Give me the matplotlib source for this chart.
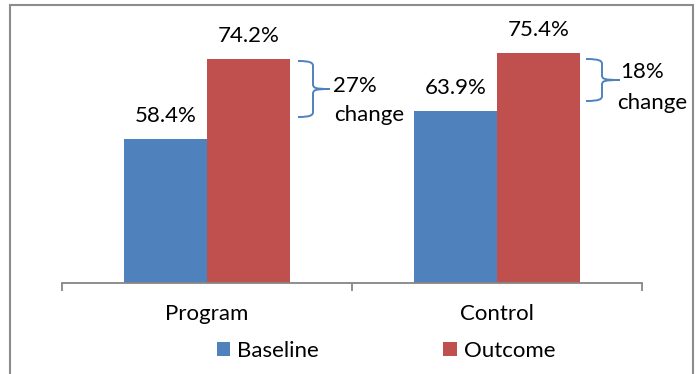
import matplotlib
matplotlib.use("Agg")
import matplotlib.pyplot as plt
from matplotlib.patches import Rectangle, PathPatch, Patch
from matplotlib.path import Path
import numpy as np

plt.rcParams['font.family'] = ['Lato', 'DejaVu Sans']

categories = ["Program", "Control"]
series_names = ["Baseline", "Outcome"]
baseline = [58.4, 63.9]
outcome = [74.2, 75.4]
change_labels = ["27%\nchange", "18%\nchange"]

colors = ["#4F81BD", "#C0504D"]
W, H = 697, 374
FS = 16

fig = plt.figure(figsize=(W / 100, H / 100), dpi=100)


def px(x, y):
    return (x / W, 1 - y / H)


# outer chart frame
fig.patches.append(Rectangle(px(10, 380), (693 - 10) / W, (380 - 5) / H,
                             transform=fig.transFigure, fill=False,
                             edgecolor="#8c8c8c", linewidth=1.5, zorder=0))

y0, y1 = 30, 84
ax_bottom = (H - 283) / H
ax_h = (y1 - y0) * 5.06 / H
ax = fig.add_axes([62 / W, ax_bottom, 580 / W, ax_h])
ax.set_facecolor("none")

x = np.arange(len(categories))
bw = 0.286
b1 = ax.bar(x - bw / 2, baseline, bw, color=colors[0], zorder=2)
b2 = ax.bar(x + bw / 2, outcome, bw, color=colors[1], zorder=2)
for bars, vals in ((b1, baseline), (b2, outcome)):
    ax.bar_label(bars, labels=[f"{v:.1f}%" for v in vals], padding=9.5,
                 fontsize=FS, color="black")

ax.set_xlim(-0.5, 1.5)
ax.set_ylim(y0, y1)
for s in ("top", "left", "right"):
    ax.spines[s].set_visible(False)
ax.spines["bottom"].set_color("#868686")
ax.spines["bottom"].set_linewidth(1.3)
ax.set_yticks([])
ax.set_xticks([-0.5, 0.5, 1.5])
ax.set_xticklabels([])
ax.tick_params(axis="x", which="major", length=5.8, width=1.3,
               color="#868686", direction="out")
ax.set_xticks(x, minor=True)
ax.set_xticklabels(categories, minor=True, fontsize=FS)
ax.tick_params(axis="x", which="minor", length=0, pad=15)


def brace(xe, xs, xt, yt, ym, yb):
    r = 5
    verts = [px(xe, yt), px(xs - 2, yt), px(xs, yt + 2), px(xs, yt + r),
             px(xs, ym - r), px(xs, ym - 1), px(xs + 2, ym), px(xt, ym),
             px(xs + 2, ym), px(xs, ym + 1), px(xs, ym + r),
             px(xs, yb - r), px(xs, yb - 2), px(xs - 2, yb), px(xe, yb)]
    codes = [Path.MOVETO, Path.CURVE4, Path.CURVE4, Path.CURVE4,
             Path.LINETO, Path.CURVE4, Path.CURVE4, Path.CURVE4,
             Path.CURVE4, Path.CURVE4, Path.CURVE4,
             Path.LINETO, Path.CURVE4, Path.CURVE4, Path.CURVE4]
    fig.patches.append(PathPatch(Path(verts, codes), transform=fig.transFigure,
                                 fill=False, edgecolor=colors[0], linewidth=1.4))


brace(298, 313, 330, 61, 89, 117)
brace(586, 602, 620, 59, 80, 101)

l1, l2 = change_labels[0].split("\n")
fig.text(*px(333, 86), l1, fontsize=FS, va="center", ha="left")
fig.text(*px(334, 115), l2, fontsize=FS, va="center", ha="left")
l1, l2 = change_labels[1].split("\n")
fig.text(*px(620, 72), l1, fontsize=FS, va="center", ha="left")
fig.text(*px(617, 103), l2, fontsize=FS, va="center", ha="left")

handles = [Patch(facecolor=c, edgecolor="none") for c in colors]
fig.legend(handles, series_names, loc="center", ncol=2,
           bbox_to_anchor=px(386, 351), frameon=False, fontsize=FS,
           handlelength=0.62, handleheight=0.62, handletextpad=0.3,
           columnspacing=5.6, borderpad=0)

fig.savefig("out.png", dpi=100)
